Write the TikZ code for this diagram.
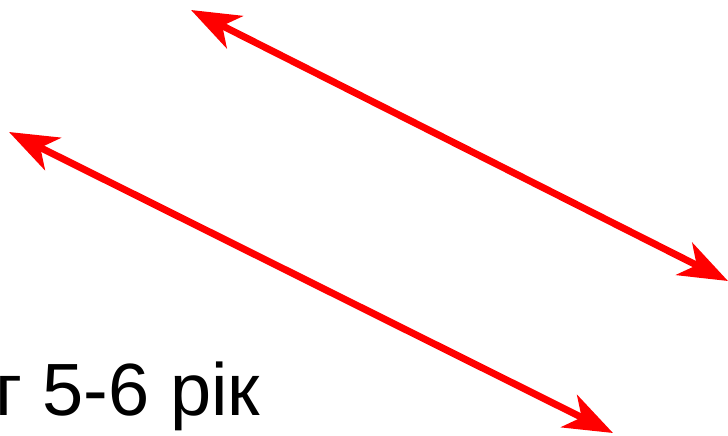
\documentclass[tikz,border=0pt]{standalone}
\usepackage{fontspec}
\setmainfont{Liberation Sans}
\usetikzlibrary{arrows.meta}
\definecolor{arrowred}{HTML}{FF0000}

\begin{document}
\begin{tikzpicture}[
  x=1pt,y=1pt,
  twoway/.style={arrowred,line width=7pt,{Stealth[length=49pt,width=36pt,inset=14pt]}-{Stealth[length=49pt,width=36pt,inset=14pt]}},
  every node/.style={font=\fontsize{74}{78}\selectfont}
]
  \useasboundingbox (0,0) rectangle (728,436);
  \coordinate (upperstart) at (191,426);
  \coordinate (upperend) at (728,155);
  \coordinate (lowerstart) at (9,304);
  \coordinate (lowerend) at (613,3);
  \draw[twoway] (upperstart) -- (upperend);
  \draw[twoway] (lowerstart) -- (lowerend);
  \node[anchor=base west,inner sep=0pt] (agelabel) at (-5,20) {г 5-6 рік};
\end{tikzpicture}
\end{document}
